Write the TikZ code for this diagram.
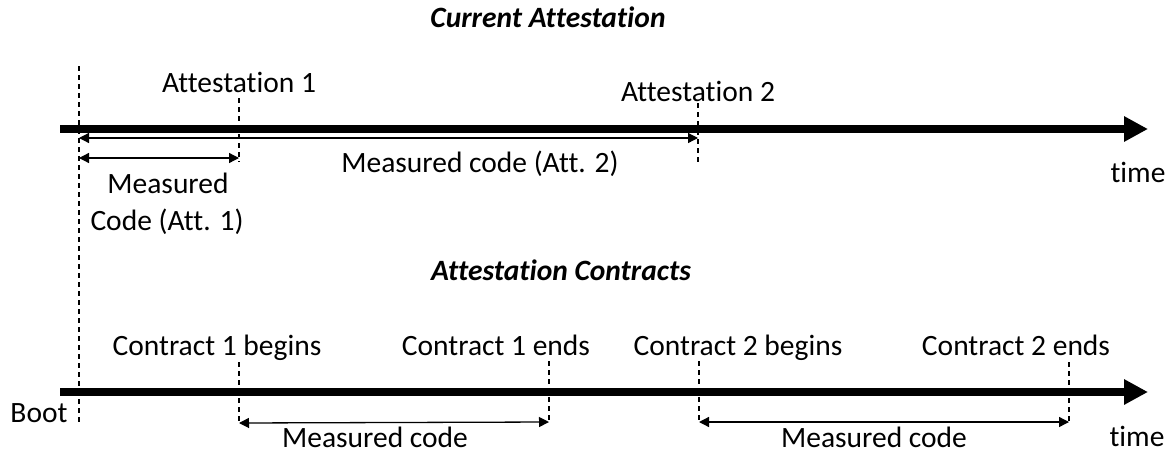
\documentclass[tikz,border=0pt]{standalone}
\usepackage{fontspec}
\setmainfont[Ligatures=NoCommon]{Carlito}
\usetikzlibrary{arrows.meta}
\begin{document}
\begin{tikzpicture}[x=1pt,y=-1pt,
  lbl/.style={inner sep=0pt,anchor=base,font=\fontsize{29.5}{35}\selectfont},
  ttl/.style={inner sep=0pt,anchor=base,font=\fontsize{29.5}{35}\selectfont\bfseries\itshape},
  axis/.style={line width=8pt,-{Triangle[length=24pt,width=24pt]}},
  guide/.style={line width=1.2pt,dash pattern=on 5pt off 4pt},
  span/.style={line width=1.3pt,{Triangle[length=10pt,width=10pt]}-{Triangle[length=10pt,width=10pt]}}]
\useasboundingbox (0,0) rectangle (1172,453);

% ---- upper timeline: current attestation ----
\node[ttl] (t1) at (548,27) {Current Attestation};
\coordinate (a0) at (60,129);
\coordinate (a1) at (1148,129);
\draw[axis] (a0) -- (a1);

\coordinate (bootTop) at (79,66);
\coordinate (bootBot) at (79,425);
\draw[guide] (bootTop) -- (bootBot);

\node[lbl] (att1) at (239,92) {Attestation 1};
\node[lbl] (att2) at (698,101) {Attestation 2};
\coordinate (att1Top) at (239,98);
\coordinate (att1Bot) at (239,162);
\coordinate (att2Top) at (698,103);
\coordinate (att2Bot) at (698,162);
\draw[guide] (att1Top) -- (att1Bot);
\draw[guide] (att2Top) -- (att2Bot);

\coordinate (m2s) at (79,138);
\coordinate (m2e) at (698,138);
\draw[span] (m2s) -- (m2e);
\coordinate (m1s) at (79,158);
\coordinate (m1e) at (239,158);
\draw[span] (m1s) -- (m1e);

\node[lbl] (mc2) at (480,172) {Measured code (Att. 2)};
\node[lbl] (mc1a) at (168,193) {Measured};
\node[lbl] (mc1b) at (167,230) {Code (Att. 1)};
\node[lbl] (time1) at (1138,182) {time};

% ---- lower timeline: attestation contracts ----
\node[ttl] (t2) at (561,280) {Attestation Contracts};
\coordinate (b0) at (60,392);
\coordinate (b1) at (1148,392);
\draw[axis] (b0) -- (b1);

\node[lbl] (boot) at (39,422) {Boot};

\node[lbl] (c1b) at (217,355) {Contract 1 begins};
\node[lbl] (c1e) at (496,355) {Contract 1 ends};
\node[lbl] (c2b) at (738,355) {Contract 2 begins};
\node[lbl] (c2e) at (1016,355) {Contract 2 ends};

\coordinate (g1t) at (239,362);
\coordinate (g1b) at (239,423);
\coordinate (g2t) at (549,361);
\coordinate (g2b) at (549,422);
\coordinate (g3t) at (699,361);
\coordinate (g3b) at (699,422);
\coordinate (g4t) at (1069,362);
\coordinate (g4b) at (1069,422);
\foreach \p in {1,2,3,4} \draw[guide] (g\p t) -- (g\p b);

\draw[span] (g1b) -- (g2b);
\draw[span] (g3b) -- (g4b);

\node[lbl] (mca) at (375,447) {Measured code};
\node[lbl] (mcb) at (874,447) {Measured code};
\node[lbl] (time2) at (1137,446) {time};
\end{tikzpicture}
\end{document}
